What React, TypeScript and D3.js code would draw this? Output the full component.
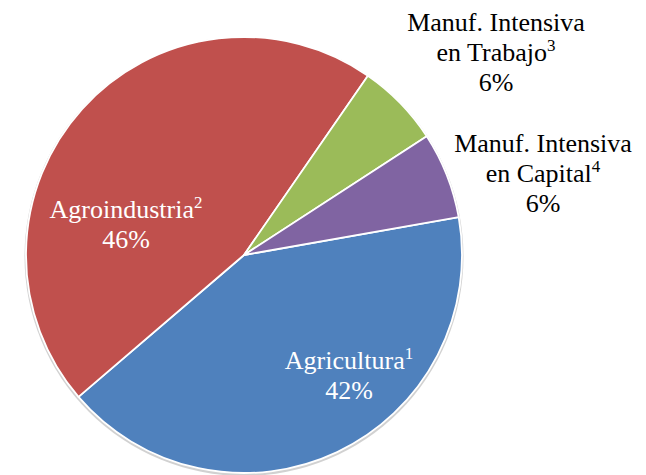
import React, { useEffect, useRef } from "react";
import * as d3 from "d3";

const categories = ["Agricultura", "Agroindustria", "Manuf. Intensiva en Trabajo", "Manuf. Intensiva en Capital"];
const values = [41.5, 45.9, 6.2, 6.4];
const percentLabels = ["42%", "46%", "6%", "6%"];
const footnotes = ["1", "2", "3", "4"];
const labelLines = [["Agricultura"], ["Agroindustria"], ["Manuf. Intensiva", "en Trabajo"], ["Manuf. Intensiva", "en Capital"]];
const colors = ["#4F81BD", "#C0504D", "#9BBB59", "#8064A2"];

// layout (not data); page coordinates, svg sits at the 8px body margin
const OFF = 8;
const W = 646 - OFF, H = 475 - OFF;
const CX = 244 - OFF, CY = 255 - OFF, R = 218;
const START_DEG = 80;
const labelLayout = [
  { x: 349 - OFF, y: 369 - OFF, color: "#fff" },
  { x: 126 - OFF, y: 218 - OFF, color: "#fff" },
  { x: 496 - OFF, y: 31 - OFF, color: "#000" },
  { x: 543 - OFF, y: 152 - OFF, color: "#000" },
];
const LH = 30;
const fontStack = '"Times New Roman", "Liberation Serif", Tinos, serif';

export default function App() {
  const ref = useRef<SVGSVGElement | null>(null);

  useEffect(() => {
    const svg = d3.select(ref.current);
    svg.selectAll("*").remove();
    svg.append("style").text(
      `svg text, svg tspan { font-family: ${fontStack} !important; }`
    );
    const start = (START_DEG * Math.PI) / 180;
    const pie = d3.pie<number>().sort(null).startAngle(start).endAngle(start + 2 * Math.PI);
    const arcs = pie(values);
    const arc = d3.arc<d3.PieArcDatum<number>>().innerRadius(0).outerRadius(R);
    const shadowArc = d3.arc<any>().innerRadius(0).outerRadius(R + 1.5).startAngle(0).endAngle(2 * Math.PI);

    svg.append("path")
      .attr("d", shadowArc({}) || "")
      .attr("transform", `translate(${CX},${CY + 1.5})`)
      .attr("fill", "#000")
      .attr("opacity", 0.18);

    const g = svg.append("g").attr("transform", `translate(${CX},${CY})`);
    g.selectAll("path.slice")
      .data(arcs)
      .join("path")
      .attr("class", "slice")
      .attr("d", (d) => arc(d) || "")
      .attr("fill", (_d, i) => colors[i])
      .attr("stroke", "#fff")
      .attr("stroke-width", 1.8)
      .attr("stroke-linejoin", "round");

    categories.forEach((c, i) => {
      const L = labelLayout[i];
      const lines = labelLines[i];
      lines.forEach((ln, j) => {
        const t = svg.append("text")
          .attr("x", L.x)
          .attr("y", L.y + j * LH)
          .attr("fill", L.color)
          .attr("text-anchor", "middle")
          .attr("font-size", 26)
          .style("font-family", fontStack, "important");
        t.append("tspan").style("font-family", fontStack, "important").text(ln);
        if (j === lines.length - 1) {
          t.append("tspan")
            .attr("dy", -10)
            .attr("font-size", 17)
            .style("font-family", fontStack, "important")
            .text(footnotes[i]);
        }
      });
      svg.append("text")
        .attr("x", L.x)
        .attr("y", L.y + lines.length * LH)
        .attr("fill", L.color)
        .attr("text-anchor", "middle")
        .attr("font-size", 26)
        .style("font-family", fontStack, "important")
        .text(percentLabels[i]);
    });
  }, []);

  return <svg ref={ref} width={W} height={H} />;
}
